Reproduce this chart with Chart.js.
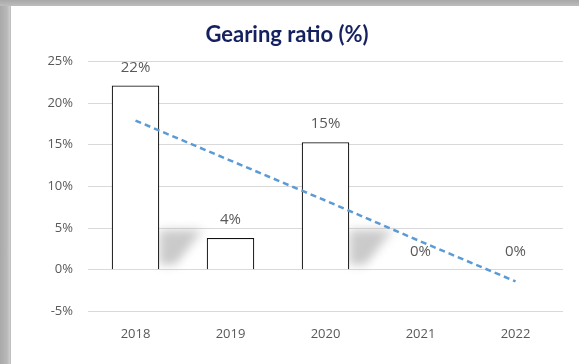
<!DOCTYPE html>
<html>
<head>
<meta charset="utf-8">
<script src="https://cdn.jsdelivr.net/npm/chart.js@4/dist/chart.umd.min.js"></script>
<style>
  html, body { margin: 0; padding: 0; }
  body {
    width: 579px; height: 364px; overflow: hidden;
    background: linear-gradient(to right, #a9a9a9 0px, #b8b8b8 7px, #cfcfcf 10px, #b0b0b0 11px);
    position: relative;
  }
  #frame {
    position: absolute; left: 11px; top: 6px; width: 568px; height: 358px;
    background: #fff;
  }
  #topbar {
    position: absolute; left: 0; top: 0; width: 579px; height: 6px;
    background: linear-gradient(to bottom, #a8a8a8, #bdbdbd);
  }
</style>
</head>
<body>
<div id="topbar"></div>
<div id="frame"><canvas id="gearingChart" width="568" height="358"></canvas></div>
<script>
var years = ["2018", "2019", "2020", "2021", "2022"];
var gearing = [22.1, 3.8, 15.3, 0, 0];
var trend = [17.9, 13.1, 8.3, 3.4, -1.4];
var yTicks = [-5, 0, 5, 10, 15, 20, 25];

// soft grey shadow at the foot of the tall bars, as in the slide
var barShadow = {
  id: "barShadow",
  beforeDatasetsDraw: function (chart) {
    var ctx = chart.ctx;
    var meta = chart.getDatasetMeta(1);
    var zero = chart.scales.y.getPixelForValue(0);
    ctx.save();
    ctx.filter = "blur(5px)";
    meta.data.forEach(function (bar) {
      if (zero - bar.y < 60) return;
      var x0 = bar.x + bar.width / 2;
      var g = ctx.createLinearGradient(x0, zero - 30, x0 + 45, zero - 5);
      g.addColorStop(0, "rgba(185,185,185,0.7)");
      g.addColorStop(0.5, "rgba(165,165,165,0.6)");
      g.addColorStop(1, "rgba(255,255,255,0)");
      ctx.fillStyle = g;
      ctx.beginPath();
      ctx.moveTo(x0, zero - 5);
      ctx.lineTo(x0, zero - 40);
      ctx.lineTo(x0 + 46, zero - 40);
      ctx.lineTo(x0 + 16, zero - 5);
      ctx.closePath();
      ctx.fill();
    });
    ctx.restore();
  }
};

// value labels over the bars, rounded like the original
var barLabels = {
  id: "barLabels",
  afterDatasetsDraw: function (chart) {
    var ctx = chart.ctx;
    var meta = chart.getDatasetMeta(1);
    ctx.save();
    ctx.font = "15px 'Open Sans'";
    ctx.fillStyle = "#595959";
    ctx.textAlign = "center";
    ctx.textBaseline = "middle";
    meta.data.forEach(function (bar, i) {
      ctx.fillText(Math.round(gearing[i]) + "%", bar.x, bar.y - 18);
    });
    ctx.restore();
  }
};

new Chart("gearingChart", {
  data: {
    labels: years,
    datasets: [
      {
        type: "line",
        data: trend,
        borderColor: "#5b9bd5",
        borderWidth: 2.5,
        borderDash: [6, 4],
        pointRadius: 0,
        fill: false,
        order: 0,
      },
      {
        type: "bar",
        data: gearing,
        backgroundColor: "#ffffff",
        borderColor: "#111111",
        borderWidth: 1.2,
        barPercentage: 0.5,
        categoryPercentage: 1.0,
        order: 1,
      },
    ],
  },
  options: {
    responsive: false,
    animation: false,
    layout: { padding: { left: 0, right: 16, top: 0, bottom: 15 } },
    plugins: {
      legend: { display: false },
      tooltip: { enabled: false },
      title: {
        display: true,
        text: "Gearing ratio (%)",
        color: "#15215f",
        font: { family: "Lato", size: 22, weight: "bold" },
        padding: { top: 16, bottom: 13 },
      },
    },
    scales: {
      x: {
        grid: { display: false },
        border: { display: false },
        ticks: { color: "#595959", font: { family: "Open Sans", size: 13 }, padding: 7 },
      },
      y: {
        min: -5,
        max: 25,
        afterBuildTicks: function (axis) {
          axis.ticks = yTicks.map(function (v) { return { value: v }; });
        },
        afterFit: function (axis) { axis.width = 77; },
        grid: { color: "#d9d9d9", lineWidth: 1, drawTicks: false },
        border: { display: false },
        ticks: {
          color: "#595959",
          font: { family: "Open Sans", size: 13 },
          padding: 15,
          callback: function (v) { return v + "%"; },
        },
      },
    },
  },
  plugins: [barShadow, barLabels],
});
</script>
</body>
</html>
